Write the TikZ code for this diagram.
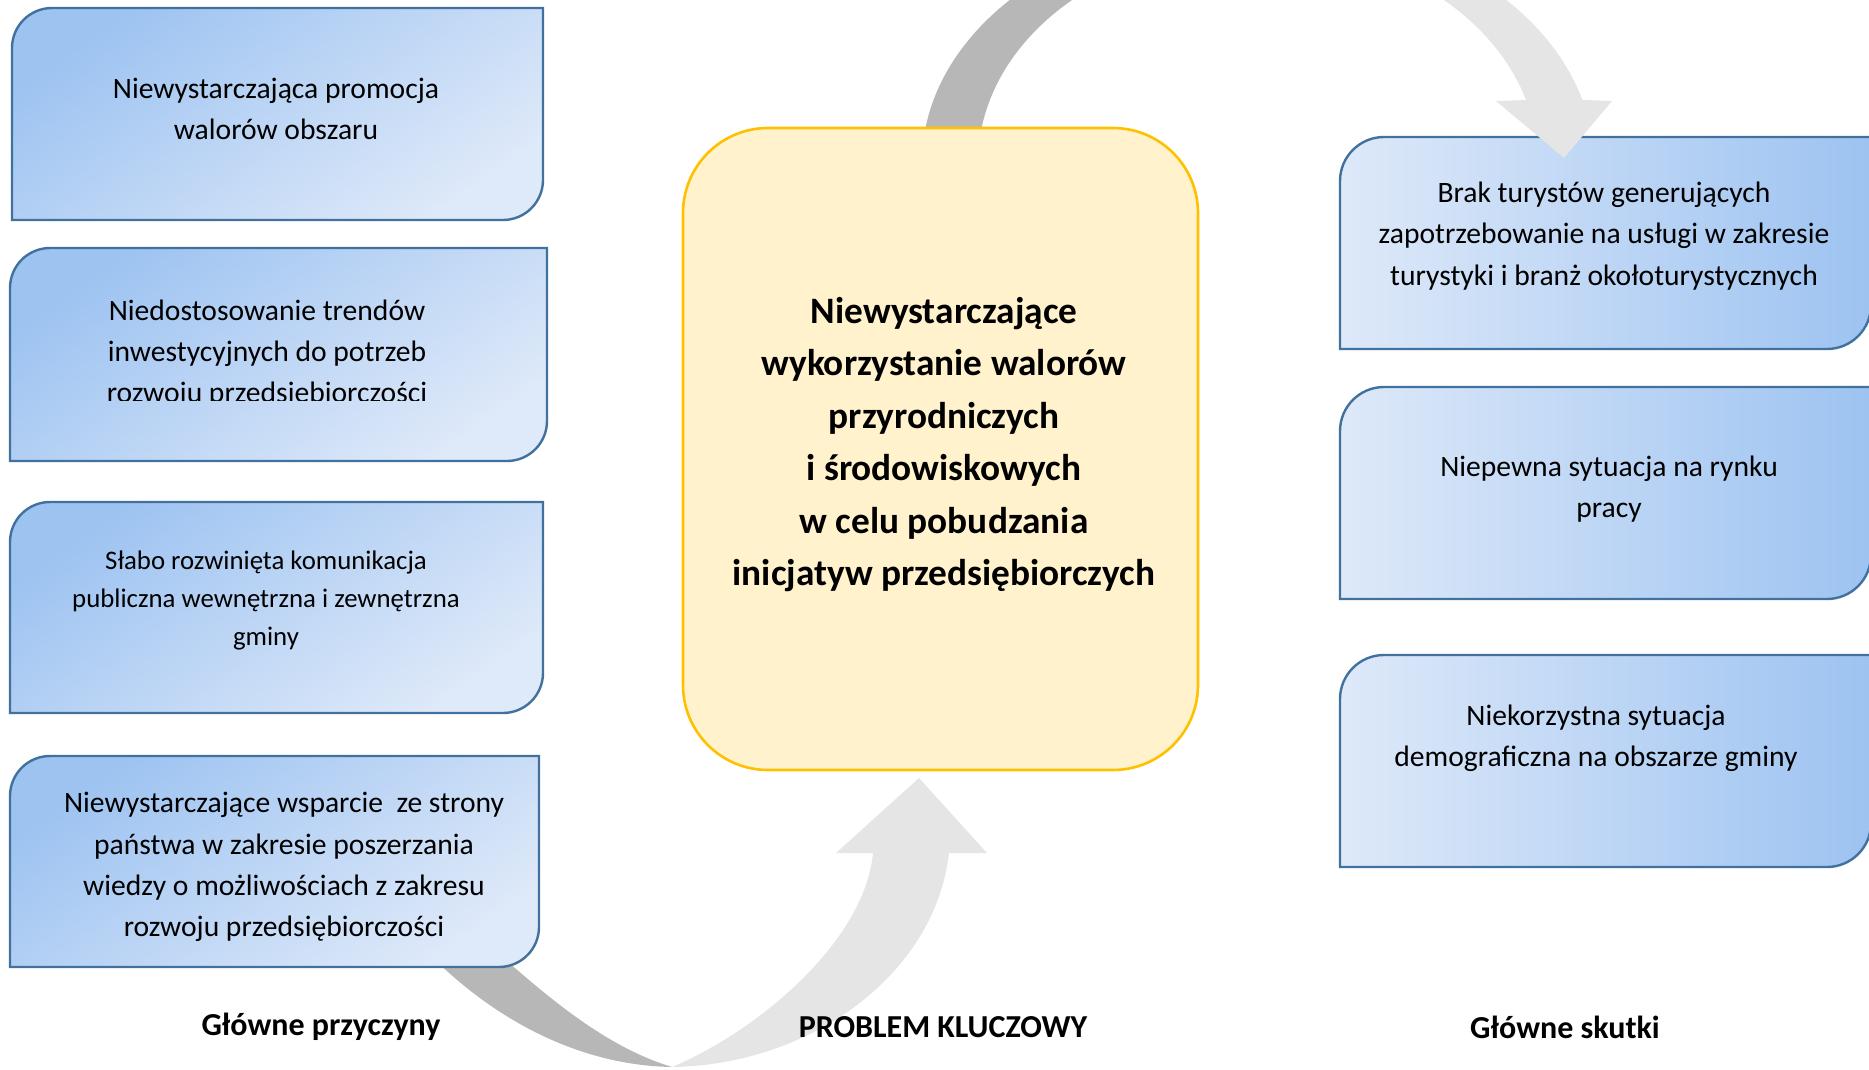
\documentclass[tikz,border=0pt]{standalone}
\usepackage{fontspec}
\setmainfont{Carlito}
\definecolor{bluedark}{HTML}{9DC3F1}
\definecolor{bluelight}{HTML}{DEE9F9}
\definecolor{boxline}{HTML}{41719C}
\definecolor{yfill}{HTML}{FFF2CC}
\definecolor{yline}{HTML}{FFC000}
\definecolor{greydark}{HTML}{B7B7B7}
\definecolor{greylight}{HTML}{E5E5E5}
\newcommand{\ccbox}[6]{%
  \path[#1] (#2,#5) -- (#2,#3+#6) arc[start angle=180,end angle=90,radius=#6 pt]
    -- (#4,#3) -- (#4,#5-#6) arc[start angle=0,end angle=-90,radius=#6 pt] -- cycle;}
\begin{document}
\begin{tikzpicture}[x=1pt,y=-1pt,
  cause/.style={draw=boxline, line width=2.4pt, top color=bluedark, bottom color=bluelight, shading angle=35},
  effect/.style={draw=boxline, line width=2.4pt, left color=bluelight, right color=bluedark},
  txt/.style={align=center, inner sep=0pt, font=\fontsize{29.6}{41.2}\selectfont},
  smalltxt/.style={align=center, inner sep=0pt, font=\fontsize{26.8}{38}\selectfont},
  keytxt/.style={align=center, inner sep=0pt, font=\bfseries\fontsize{37.3}{52.5}\selectfont},
  lbl/.style={inner sep=0pt, font=\bfseries\fontsize{32}{38}\selectfont},
  darkband/.style={fill=greydark, draw=none},
  lightband/.style={fill=greylight, draw=none}]
\path[use as bounding box] (0,0) rectangle (1869,1070);
\clip (0,0) rectangle (1869,1070);

% bottom curved arrow (behind boxes)
\path[darkband] (416,940) .. controls (470,1000) and (560,1065) .. (672,1067)
  .. controls (600,1045) and (540,990) .. (483,940) -- cycle;
\path[lightband] (672,1067) .. controls (810,1065) and (935,975) .. (949,853)
  -- (987,853) -- (919,778) -- (836,853) -- (873,853)
  .. controls (865,940) and (760,1030) .. (672,1067) -- cycle;

% causes
\ccbox{cause}{12}{8}{543}{220}{40}
\ccbox{cause}{10}{248}{547}{461}{40}
\ccbox{cause}{10}{502}{543}{713}{40}
\ccbox{cause}{10}{756}{539}{967}{40}

% effects
\ccbox{effect}{1340}{137}{1871}{349}{44}
\ccbox{effect}{1340}{387}{1871}{599}{44}
\ccbox{effect}{1340}{655}{1871}{867}{44}

% top curved arrow
\path[darkband] (922,163) arc[start angle=180,end angle=90,x radius=336pt,y radius=242pt]
  -- (1258,-55) arc[start angle=90,end angle=180,x radius=280pt,y radius=218pt] -- cycle;
\path[lightband] (1258,-79) arc[start angle=90,end angle=15.1,x radius=336pt,y radius=242pt]
  -- (1612,101) -- (1564,158) -- (1496,101) -- (1526,100)
  arc[start angle=16.8,end angle=90,x radius=280pt,y radius=218pt] -- cycle;

% key problem
\draw[fill=yfill, draw=yline, line width=2.6pt, rounded corners=85pt] (683,128) rectangle (1198,770);

% texts
\node[txt] (c1) at (276,109) {Niewystarczająca promocja\\walorów obszaru};
\begin{scope}
\clip (0,240) rectangle (560,400);
\node[txt] (c2) at (267,353.5) {Niedostosowanie trendów\\inwestycyjnych do potrzeb\\rozwoju przedsiębiorczości};
\end{scope}
\node[smalltxt] (c3) at (266,600.5) {Słabo rozwinięta komunikacja\\publiczna wewnętrzna i zewnętrzna\\gminy};
\node[txt] (c4) at (284,867) {Niewystarczające wsparcie\ \ ze strony\\państwa w zakresie poszerzania\\wiedzy o możliwościach z zakresu\\rozwoju przedsiębiorczości};

\node[txt] (e1) at (1604,236) {Brak turystów generujących\\zapotrzebowanie na usługi w zakresie\\turystyki i branż okołoturystycznych};
\node[txt] (e2) at (1609,489) {Niepewna sytuacja na rynku\\pracy};
\node[txt] (e3) at (1596,738.5) {Niekorzystna sytuacja\\demograficzna na obszarze gminy};

\node[keytxt] (k) at (944,444.5) {Niewystarczające\\wykorzystanie walorów\\przyrodniczych\\i środowiskowych\\w celu pobudzania\\inicjatyw przedsiębiorczych};

\node[lbl] (l1) at (321,1027) {Główne przyczyny};
\node[lbl] (l2) at (943,1027) {PROBLEM KLUCZOWY};
\node[lbl] (l3) at (1565,1027) {Główne skutki};
\end{tikzpicture}
\end{document}
